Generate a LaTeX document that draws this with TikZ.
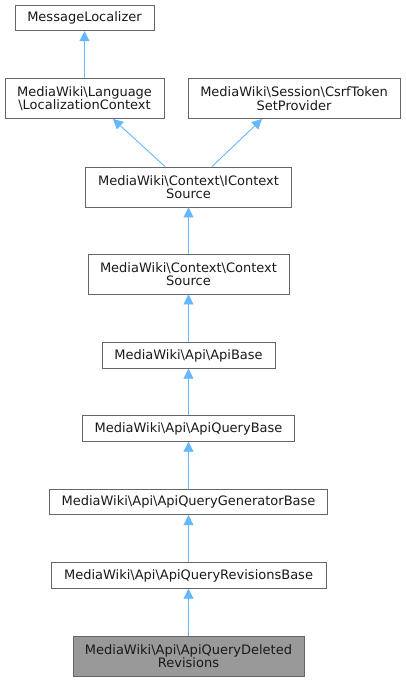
\documentclass[tikz,border=0pt]{standalone}
\usepackage{fontspec}
\setmainfont{DejaVu Sans}
\usetikzlibrary{arrows.meta}

\newcommand{\bs}{\textbackslash}

\begin{document}
\begin{tikzpicture}[x=1pt,y=-1pt,
    classbox/.style={draw=boxgray,line width=0.9pt,text=black!90,align=center,inner sep=0pt,
        font=\fontsize{13}{13.3}\selectfont},
    current/.style={classbox,fill=curgray},
    inherit/.style={draw=inhblue,line width=0.9pt,-{Triangle[length=10pt,width=10pt]}}]
    \definecolor{boxgray}{HTML}{666666}
    \definecolor{curgray}{HTML}{999999}
    \definecolor{inhblue}{HTML}{63B8FF}
    \pgfmathsetmacro{\midx}{188.5}
    \pgfmathsetmacro{\shorth}{25.5}
    \pgfmathsetmacro{\tallh}{40}
    \useasboundingbox (0,0) rectangle (405,681);
    % classes, top to bottom
    \node[classbox,minimum width=139pt,minimum height=\shorth pt] (msgloc) at (84.5,18) {MessageLocalizer};
    \node[classbox,minimum width=159pt,minimum height=\tallh pt] (locctx) at (84.5,98.5) {MediaWiki\bs Language\\\bs LocalizationContext};
    \node[classbox,minimum width=212pt,minimum height=\tallh pt] (csrf) at (294,98.5) {MediaWiki\bs Session\bs CsrfToken\\SetProvider};
    \node[classbox,minimum width=206pt,minimum height=\tallh pt] (ictx) at (\midx,187) {MediaWiki\bs Context\bs IContext\\Source};
    \node[classbox,minimum width=201pt,minimum height=\tallh pt] (ctxsrc) at (\midx,274) {MediaWiki\bs Context\bs Context\\Source};
    \node[classbox,minimum width=173pt,minimum height=\shorth pt] (apibase) at (\midx,355.5) {MediaWiki\bs Api\bs ApiBase};
    \node[classbox,minimum width=212pt,minimum height=\shorth pt] (qbase) at (\midx,428.5) {MediaWiki\bs Api\bs ApiQueryBase};
    \node[classbox,minimum width=278pt,minimum height=\shorth pt] (genbase) at (\midx,502) {MediaWiki\bs Api\bs ApiQueryGeneratorBase};
    \node[classbox,minimum width=275pt,minimum height=\shorth pt] (revbase) at (\midx,575.5) {MediaWiki\bs Api\bs ApiQueryRevisionsBase};
    \node[current,minimum width=231pt,minimum height=\tallh pt] (deleted) at (\midx,656) {MediaWiki\bs Api\bs ApiQueryDeleted\\Revisions};
    % inheritance arrows
    \draw[inherit] (locctx) -- (msgloc);
    \draw[inherit] ([xshift=-23.5pt]ictx.north) -- ([xshift=28.5pt]locctx.south);
    \draw[inherit] ([xshift=23.5pt]ictx.north) -- ([xshift=-32pt]csrf.south);
    \draw[inherit] (ctxsrc) -- (ictx);
    \draw[inherit] (apibase) -- (ctxsrc);
    \draw[inherit] (qbase) -- (apibase);
    \draw[inherit] (genbase) -- (qbase);
    \draw[inherit] (revbase) -- (genbase);
    \draw[inherit] (deleted) -- (revbase);
\end{tikzpicture}
\end{document}
